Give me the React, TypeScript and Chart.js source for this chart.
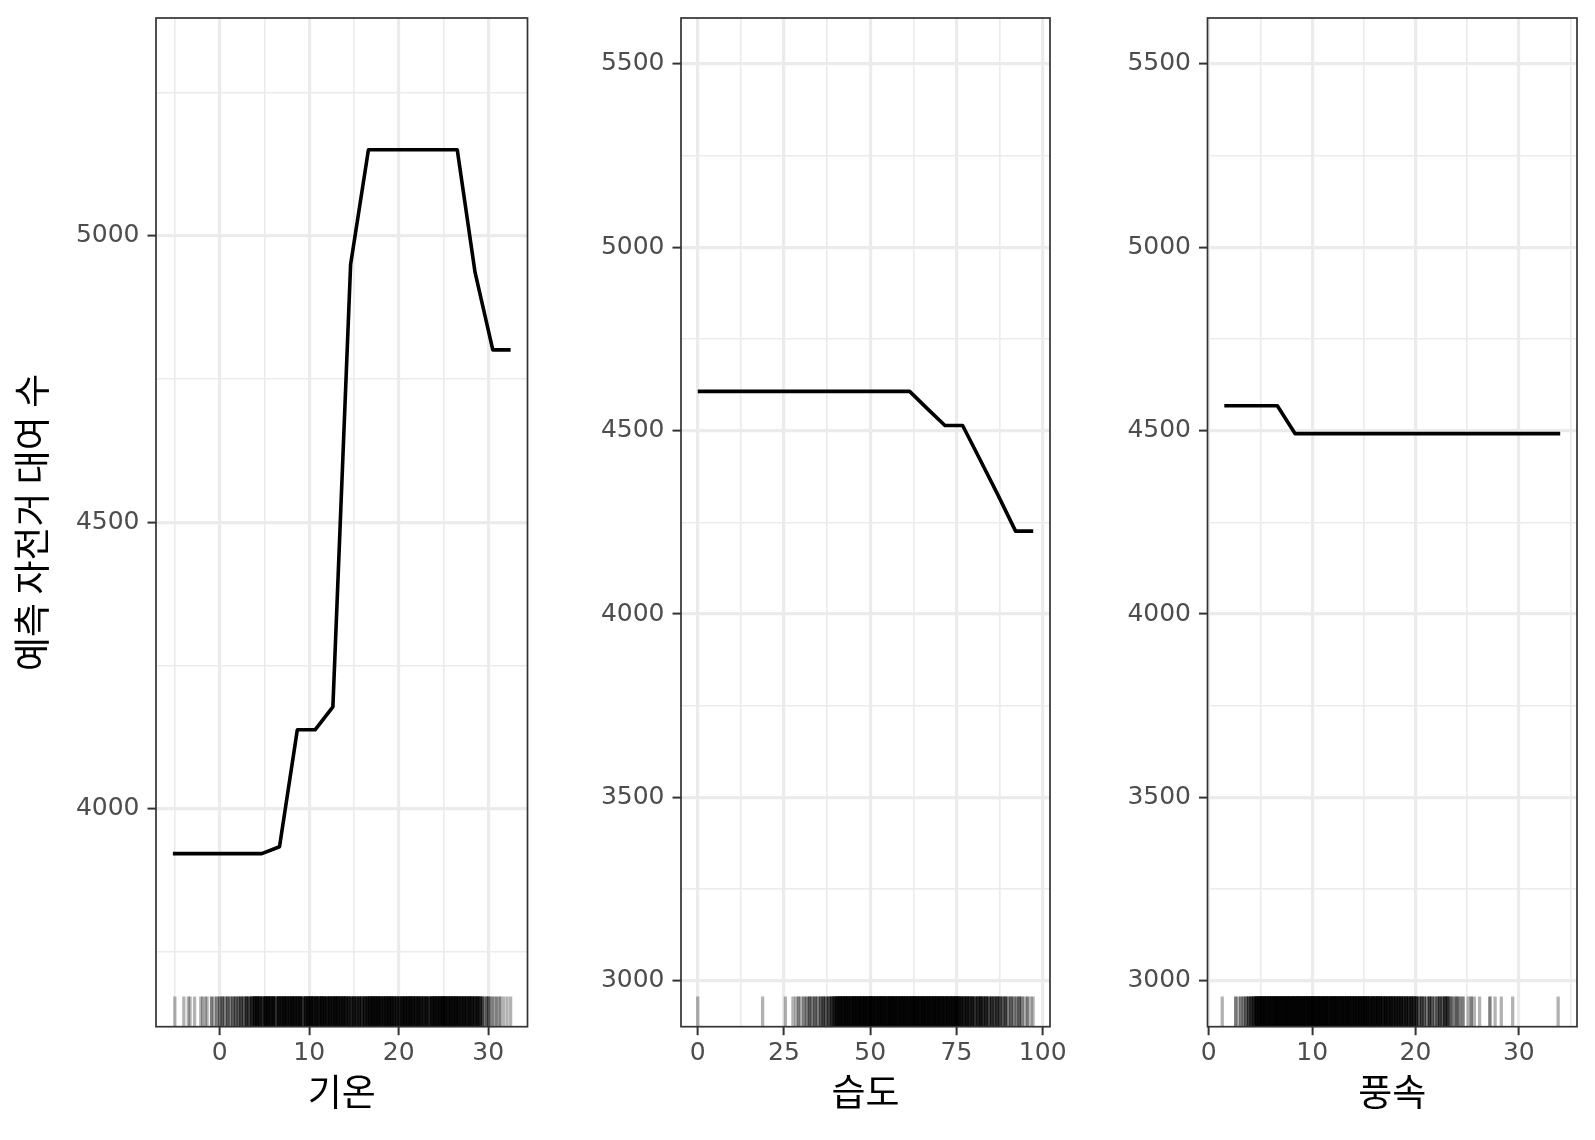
import React, { useEffect, useRef } from "react";
import { Chart, registerables } from "chart.js";

Chart.register(...registerables);

// ---------- data ----------
const tempGrid = [-5.22, -3.23, -1.25, 0.74, 2.72, 4.71, 6.69, 8.68, 10.66, 12.65, 14.63, 16.62, 18.6, 20.59, 22.57, 24.56, 26.54, 28.53, 30.51, 32.5];
const tempPred = [3922, 3922, 3922, 3922, 3922, 3922, 3934, 4138, 4138, 4178, 4950, 5150, 5150, 5150, 5150, 5150, 5150, 4936, 4801, 4801];

const humGrid = [0, 5.12, 10.24, 15.36, 20.47, 25.59, 30.71, 35.83, 40.95, 46.07, 51.18, 56.3, 61.42, 66.54, 71.66, 76.78, 81.89, 87.01, 92.13, 97.25];
const humPred = [4607, 4607, 4607, 4607, 4607, 4607, 4607, 4607, 4607, 4607, 4607, 4607, 4607, 4560, 4514, 4514, 4420, 4325, 4226, 4226];

const windGrid = [1.5, 3.21, 4.92, 6.63, 8.34, 10.05, 11.76, 13.47, 15.18, 16.89, 18.61, 20.32, 22.03, 23.74, 25.45, 27.16, 28.87, 30.58, 32.29, 34.0];
const windPred = [4568, 4568, 4568, 4568, 4492, 4492, 4492, 4492, 4492, 4492, 4492, 4492, 4492, 4492, 4492, 4492, 4492, 4492, 4492, 4492];

// rug observations: [value, number of observations at that value]
const tempRug: [number, number][] = [
  [-5.0, 1], [-4.0, 1], [-3.5, 1], [-3.3, 1], [-2.8, 1], [-2.1, 1], [-1.9, 1], [-1.6, 1], [-1.4, 1], [-0.9, 2], [-0.6, 1], [-0.3, 2],
  [0.0, 2], [0.3, 3], [0.6, 2], [0.9, 3], [1.2, 2], [1.5, 3], [1.8, 3], [2.1, 3], [2.4, 4], [2.7, 3], [3.0, 5], [3.3, 4], [3.6, 6],
  [3.9, 8], [4.2, 9], [4.5, 8], [4.8, 5], [5.1, 9], [5.4, 10], [5.7, 8], [6.0, 9], [6.3, 5], [6.6, 9], [6.9, 8], [7.2, 10],
  [7.5, 9], [7.8, 8], [8.1, 10], [8.4, 9], [8.7, 8], [9.0, 9], [9.3, 5], [9.6, 8], [9.9, 9], [10.2, 10], [10.5, 8], [10.8, 9],
  [11.1, 8], [11.4, 10], [11.7, 9], [12.0, 8], [12.3, 9], [12.6, 8], [12.9, 10], [13.2, 9], [13.5, 8], [13.8, 9], [14.1, 8],
  [14.4, 7], [14.7, 6], [15.0, 7], [15.3, 6], [15.6, 7], [15.9, 6], [16.2, 7], [16.5, 8], [16.8, 9], [17.1, 10], [17.4, 9],
  [17.7, 10], [18.0, 9], [18.3, 8], [18.6, 9], [18.9, 10], [19.2, 9], [19.5, 8], [19.8, 7], [20.1, 6], [20.4, 9], [20.7, 10],
  [21.0, 9], [21.3, 10], [21.6, 9], [21.9, 8], [22.2, 9], [22.5, 8], [22.8, 7], [23.1, 8], [23.4, 6], [23.7, 9], [24.0, 10],
  [24.3, 9], [24.6, 10], [24.9, 11], [25.2, 10], [25.5, 9], [25.8, 10], [26.1, 9], [26.4, 10], [26.7, 9], [27.0, 8], [27.3, 9],
  [27.6, 8], [27.9, 9], [28.2, 8], [28.5, 7], [28.8, 8], [29.1, 6],
  [29.4, 4], [29.8, 3], [30.1, 3], [30.5, 2], [30.9, 2], [31.3, 2], [31.7, 1], [32.1, 1], [32.5, 1],
];

const humRug: [number, number][] = [
  [0.0, 1], [18.8, 1], [25.4, 1], [27.6, 1], [28.4, 1], [29.2, 2], [30.0, 1], [30.8, 2], [31.6, 2], [32.4, 3], [33.2, 2],
  [34.0, 3], [34.8, 2], [35.6, 3], [36.4, 4], [37.2, 3], [38.0, 4], [38.8, 5], [39.6, 7],
  [40.4, 10], [41.2, 11], [42.0, 10], [42.8, 12], [43.6, 11], [44.4, 10], [45.2, 12], [46.0, 11], [46.8, 12], [47.6, 11],
  [48.4, 12], [49.2, 11], [50.0, 13], [50.8, 12], [51.6, 11], [52.4, 12], [53.2, 13], [54.0, 12], [54.8, 11], [55.6, 12],
  [56.4, 13], [57.2, 12], [58.0, 11], [58.8, 12], [59.6, 13], [60.4, 12], [61.2, 11], [62.0, 12], [62.8, 13], [63.6, 12],
  [64.4, 11], [65.2, 12], [66.0, 11], [66.8, 12], [67.6, 11], [68.4, 12], [69.2, 11], [70.0, 12], [70.8, 11], [71.6, 10],
  [72.4, 11], [73.2, 10], [74.0, 11], [74.8, 10], [75.6, 9],
  [76.4, 8], [77.2, 7], [78.0, 8], [78.8, 6], [79.6, 7], [80.4, 5], [81.2, 6], [82.0, 7], [82.8, 5], [83.6, 6], [84.4, 4],
  [85.2, 5], [86.0, 4], [86.8, 5], [87.6, 4], [88.4, 3], [89.2, 4], [90.0, 2], [90.8, 3], [91.6, 2], [92.4, 2], [93.2, 3],
  [94.0, 2], [94.8, 1], [95.6, 2], [96.6, 1], [97.2, 1],
];

const windRug: [number, number][] = [
  [1.3, 1], [2.6, 2], [2.85, 1], [3.1, 2], [3.35, 2], [3.6, 3], [3.85, 4], [4.1, 5], [4.35, 6],
  [4.6, 10], [4.85, 11], [5.1, 10], [5.35, 12], [5.6, 11], [5.85, 12], [6.1, 11], [6.35, 12], [6.6, 13], [6.85, 12],
  [7.1, 11], [7.35, 12], [7.6, 13], [7.85, 12], [8.1, 13], [8.35, 12], [8.6, 13], [8.85, 12], [9.1, 13], [9.35, 12],
  [9.6, 13], [9.85, 12], [10.1, 13], [10.35, 12], [10.6, 13], [10.85, 12], [11.1, 13], [11.35, 12], [11.6, 11], [11.85, 12],
  [12.1, 13], [12.35, 12], [12.6, 11], [12.85, 12], [13.1, 11], [13.35, 12], [13.6, 11], [13.85, 10], [14.1, 11], [14.35, 10],
  [14.6, 11], [14.85, 10], [15.1, 11], [15.35, 10], [15.6, 9], [15.85, 10], [16.1, 9], [16.35, 10], [16.6, 9], [16.85, 8],
  [17.1, 9], [17.35, 8], [17.6, 9], [17.85, 7], [18.1, 8], [18.35, 7], [18.6, 8], [18.85, 6], [19.1, 7], [19.35, 6], [19.6, 7],
  [19.85, 6], [20.1, 5], [20.35, 3], [20.6, 4], [20.85, 3], [21.1, 2], [21.35, 4], [21.6, 3], [21.85, 2], [22.1, 3],
  [22.35, 4], [22.6, 3], [22.85, 5], [23.1, 5], [23.4, 3], [23.7, 2], [24.0, 3], [24.3, 2], [24.6, 2], [25.1, 1], [25.4, 2],
  [25.7, 1], [26.2, 1], [27.2, 2], [27.7, 1], [28.3, 1], [29.4, 1], [33.8, 1],
];

// ---------- tick values / labels ----------
const tempTicksMajor = [0, 10, 20, 30];
const tempTicksMinor = [-5, 5, 15, 25];
const humTicksMajor = [0, 25, 50, 75, 100];
const humTicksMinor = [12.5, 37.5, 62.5, 87.5];
const windTicksMajor = [0, 10, 20, 30];
const windTicksMinor = [5, 15, 25, 35];
const predTicksMajorTemp = [4000, 4500, 5000];
const predTicksMinorTemp = [3750, 4250, 4750, 5250];
const predTicksMajor = [3000, 3500, 4000, 4500, 5000, 5500];
const predTicksMinor = [3250, 3750, 4250, 4750, 5250];

const xTitles = ["기온", "습도", "풍속"];
const yTitle = "예측 자전거 대여 수";

// ---------- layout / styles ----------
const H = 1140;
const PLOT_TOP = 18;
const X_AXIS_H = 113.3;
const TICK_FONT = { family: "'DejaVu Sans'", size: 25 };
const TITLE_FONT = { family: "'Noto Sans CJK KR'", size: 37 };

type PanelCfg = {
  grid: number[]; pred: number[]; rug: [number, number][];
  xMin: number; xMax: number; yMin: number; yMax: number;
  xMajor: number[]; xMinor: number[]; yMajor: number[]; yMinor: number[];
  title: string; showYTitle: boolean;
  left: number; width: number; yAxisW: number; padRight: number;
};

const PANELS: PanelCfg[] = [
  { grid: tempGrid, pred: tempPred, rug: tempRug, xMin: -7.106, xMax: 34.386, yMin: 3620, yMax: 5380,
    xMajor: tempTicksMajor, xMinor: tempTicksMinor, yMajor: predTicksMajorTemp, yMinor: predTicksMinorTemp,
    title: xTitles[0], showYTitle: true, left: 0, width: 540, yAxisW: 156, padRight: 12.5 },
  { grid: humGrid, pred: humPred, rug: humRug, xMin: -4.8625, xMax: 102.1125, yMin: 2875, yMax: 5625,
    xMajor: humTicksMajor, xMinor: humTicksMinor, yMajor: predTicksMajor, yMinor: predTicksMinor,
    title: xTitles[1], showYTitle: false, left: 540, width: 540, yAxisW: 141, padRight: 30 },
  { grid: windGrid, pred: windPred, rug: windRug, xMin: -0.125, xMax: 35.625, yMin: 2875, yMax: 5625,
    xMajor: windTicksMajor, xMinor: windTicksMinor, yMajor: predTicksMajor, yMinor: predTicksMinor,
    title: xTitles[2], showYTitle: false, left: 1080, width: 515, yAxisW: 127.5, padRight: 18 },
];

const has = (arr: number[], v: number) => arr.some((a) => Math.abs(a - v) < 1e-6);

const borderPlugin = {
  id: "panelBorder",
  afterDraw(chart: any) {
    const { ctx, chartArea: a } = chart;
    ctx.save();
    ctx.strokeStyle = "#333333";
    ctx.lineWidth = 1.7;
    ctx.strokeRect(a.left, a.top, a.right - a.left, a.bottom - a.top);
    ctx.restore();
  },
};

function gridOpts(major: number[]) {
  return {
    color: "#EBEBEB",
    lineWidth: (c: any) => (c.tick && has(major, c.tick.value) ? 3.2 : 1.6),
    drawTicks: true,
    tickLength: 8.5,
    tickWidth: 2,
    tickColor: (c: any) => (c.tick && has(major, c.tick.value) ? "#333333" : "rgba(0,0,0,0)"),
  };
}

function Panel({ cfg }: { cfg: PanelCfg }) {
  const ref = useRef<HTMLCanvasElement>(null);
  useEffect(() => {
    const p = cfg;
    const rugY = p.yMin + 0.015 * (p.yMax - p.yMin);
    const rugPoints: { x: number; y: number }[] = [];
    p.rug.forEach(([v, c]) => {
      for (let i = 0; i < c; i++) rugPoints.push({ x: v, y: rugY });
    });
    const chart = new Chart(ref.current!, {
      type: "scatter",
      data: {
        datasets: [
          {
            type: "line",
            data: p.grid.map((x, i) => ({ x, y: p.pred[i] })),
            borderColor: "#000000",
            borderWidth: 3.6,
            pointRadius: 0,
            tension: 0,
            fill: false,
            borderJoinStyle: "round",
            borderCapStyle: "butt",
          } as any,
          {
            type: "scatter",
            data: rugPoints,
            pointStyle: "line",
            pointRotation: 90,
            pointRadius: 15.13,
            pointBorderColor: "rgba(0,0,0,0.3)",
            pointBorderWidth: 3.3,
            pointBackgroundColor: "rgba(0,0,0,0)",
          } as any,
        ],
      },
      options: {
        responsive: false,
        animation: false,
        events: [],
        layout: { autoPadding: false, padding: { left: 0, right: p.padRight, top: PLOT_TOP, bottom: 0 } },
        plugins: { legend: { display: false }, tooltip: { enabled: false } },
        scales: {
          x: {
            type: "linear",
            position: "bottom",
            min: p.xMin,
            max: p.xMax,
            afterBuildTicks: (s: any) => {
              s.ticks = [...p.xMinor, ...p.xMajor].sort((a, b) => a - b).map((v) => ({ value: v }));
            },
            afterFit: (s: any) => {
              s.height = X_AXIS_H;
              s.paddingLeft = 0; s.paddingRight = 0; s.paddingTop = 0; s.paddingBottom = 0;
            },
            border: { display: false },
            grid: gridOpts(p.xMajor),
            ticks: {
              autoSkip: false,
              maxRotation: 0,
              minRotation: 0,
              padding: 3.5,
              color: "#4D4D4D",
              font: TICK_FONT,
              callback: (v: any) => (has(p.xMajor, Number(v)) ? String(v) : ""),
            },
            title: {
              display: true,
              text: p.title,
              color: "#000000",
              font: TITLE_FONT,
              padding: { top: 0, bottom: 26.3 },
            },
          } as any,
          y: {
            type: "linear",
            min: p.yMin,
            max: p.yMax,
            afterBuildTicks: (s: any) => {
              s.ticks = [...p.yMinor, ...p.yMajor].sort((a, b) => a - b).map((v) => ({ value: v }));
            },
            afterFit: (s: any) => {
              s.width = p.yAxisW;
              s.paddingLeft = 0; s.paddingRight = 0; s.paddingTop = 0; s.paddingBottom = 0;
            },
            border: { display: false },
            grid: gridOpts(p.yMajor),
            ticks: {
              autoSkip: false,
              padding: 8,
              color: "#4D4D4D",
              font: TICK_FONT,
              callback: (v: any) => (has(p.yMajor, Number(v)) ? String(v) : ""),
            },
            title: {
              display: p.showYTitle,
              text: yTitle,
              color: "#000000",
              font: TITLE_FONT,
              padding: { top: 9.5, bottom: 0 },
            },
          } as any,
        },
      } as any,
      plugins: [borderPlugin],
    });
    return () => chart.destroy();
  }, [cfg]);
  return (
    <canvas
      ref={ref}
      width={cfg.width}
      height={H}
      style={{ position: "absolute", left: cfg.left, top: 0, width: cfg.width, height: H }}
    />
  );
}

export default function App() {
  return (
    <div style={{ position: "absolute", left: 0, top: 0, width: 1595, height: H, background: "#FFFFFF" }}>
      {PANELS.map((p, i) => (
        <Panel key={i} cfg={p} />
      ))}
    </div>
  );
}
